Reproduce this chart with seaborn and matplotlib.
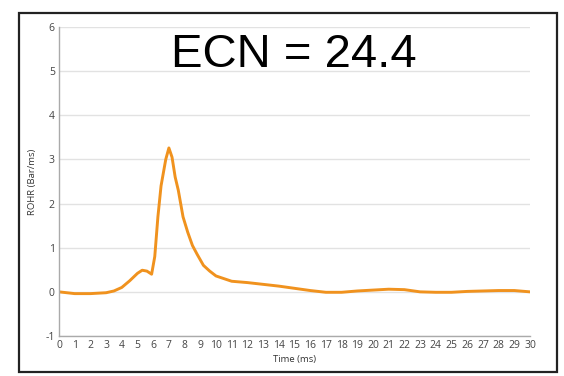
import matplotlib
matplotlib.use("Agg")
import matplotlib.pyplot as plt
import matplotlib.patches as mpatches
import seaborn as sns
import pandas as pd

time_ms = [0, 0.5, 1, 1.5, 2, 2.5, 3, 3.5, 4, 4.5, 5, 5.3, 5.6, 5.9, 6.1, 6.3, 6.5,
           6.8, 7.0, 7.2, 7.4, 7.6, 7.9, 8.2, 8.5, 8.8, 9.2, 9.6, 10, 10.5, 11, 12,
           13, 14, 15, 16, 17, 18, 19, 20, 21, 22, 23, 24, 25, 26, 27, 28, 29, 30]
rohr = [0.0, -0.02, -0.04, -0.04, -0.04, -0.03, -0.02, 0.02, 0.1, 0.25, 0.42, 0.49,
        0.47, 0.40, 0.8, 1.7, 2.4, 3.0, 3.26, 3.05, 2.6, 2.3, 1.7, 1.35, 1.05, 0.85,
        0.6, 0.47, 0.36, 0.3, 0.24, 0.21, 0.17, 0.13, 0.08, 0.03, -0.01, -0.01, 0.02,
        0.04, 0.06, 0.05, 0.0, -0.01, -0.01, 0.01, 0.02, 0.03, 0.03, 0.0]
x_ticks = list(range(0, 31))
y_ticks = [-1, 0, 1, 2, 3, 4, 5, 6]
title_text = "ECN = 24.4"

sns.set_style("white")
plt.rcParams['font.family'] = ['Open Sans', 'DejaVu Sans']
plt.rcParams['axes.unicode_minus'] = False

df = pd.DataFrame({"Time (ms)": time_ms, "ROHR (Bar/ms)": rohr})

fig = plt.figure(figsize=(5.64, 3.76), dpi=100)
ax = fig.add_axes([0.1046, 0.1064, 0.8351, 0.8218])
sns.lineplot(data=df, x="Time (ms)", y="ROHR (Bar/ms)", ax=ax, color="#F0921E",
             linewidth=2.1)

ax.set_xlim(0, 30)
ax.set_ylim(-1, 6)
ax.set_xticks(x_ticks)
ax.set_yticks(y_ticks)
ax.tick_params(axis='both', length=0, labelsize=7.5, labelcolor="#444444", pad=3)
ax.grid(axis='y', color="#e2e2e2", linewidth=1)
ax.set_axisbelow(True)
for s in ["top", "right"]:
    ax.spines[s].set_visible(False)
for s in ["left", "bottom"]:
    ax.spines[s].set_color("#aaaaaa")
    ax.spines[s].set_linewidth(1)
ax.set_xlabel("Time (ms)", fontsize=6.8, color="#333333", labelpad=3)
ax.set_ylabel("ROHR (Bar/ms)", fontsize=6.8, color="#333333", labelpad=6)

fig.text(0.521, 0.822, title_text, fontsize=34, family="Liberation Sans",
         ha="center", va="baseline", color="black")

rect = mpatches.Rectangle((0.0337, 0.0106), 0.954, 0.955, transform=fig.transFigure,
                          fill=False, edgecolor="#222222", linewidth=1.6)
fig.patches.append(rect)

fig.savefig("out.png", dpi=100)
